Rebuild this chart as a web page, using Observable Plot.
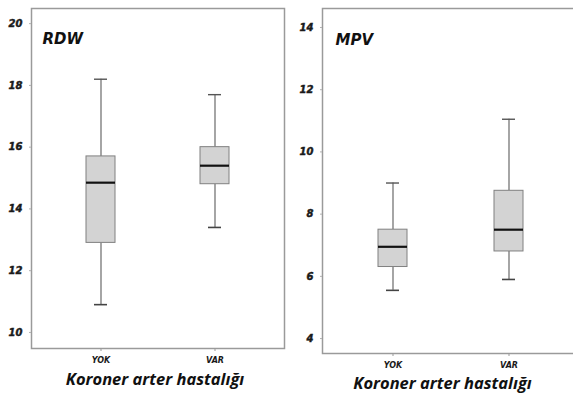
<!DOCTYPE html>
<html>
<head>
<meta charset="utf-8">
<script src="https://cdn.jsdelivr.net/npm/d3@7"></script>
<script src="https://cdn.jsdelivr.net/npm/@observablehq/plot@0.6"></script>
<style>
  html, body { margin: 0; padding: 0; background: #fff; }
  #wrap { position: relative; width: 573px; height: 395px; overflow: hidden; background: #fff; }
  .panel { position: absolute; top: 0; width: 290px; height: 395px; }
  .panel svg { overflow: visible; max-width: none !important; height: 395px !important; }
  .panel svg g[aria-label="y-axis tick label"] text { stroke: #1a1a1a; stroke-width: 0.45px; }
</style>
</head>
<body>
<div id="wrap">
  <div id="left" class="panel" style="left:0px"></div>
  <div id="right" class="panel" style="left:290px"></div>
</div>
<script>
// ---- data ----
const groups = ["YOK", "VAR"];
const xTitle = "Koroner arter hastalığı";

const rdwLow    = [10.9, 13.4];
const rdwQ1     = [12.9, 14.8];
const rdwMedian = [14.85, 15.4];
const rdwQ3     = [15.7, 16.0];
const rdwHigh   = [18.2, 17.7];
const rdwTicks  = [10, 12, 14, 16, 18, 20];

const mpvLow    = [5.55, 5.9];
const mpvQ1     = [6.3, 6.8];
const mpvMedian = [6.95, 7.5];
const mpvQ3     = [7.5, 8.75];
const mpvHigh   = [9.0, 11.05];
const mpvTicks  = [4, 6, 8, 10, 12, 14];

function rows(low, q1, med, q3, high) {
  return groups.map((g, i) => ({group: g, low: low[i], q1: q1[i], median: med[i], q3: q3[i], high: high[i]}));
}

const fontTick = "DejaVu Sans, sans-serif";
const fontTitle = "Open Sans, Lato, sans-serif";

function panel({title, data, ticks, yDomain, width, height, margins, pad, titleDx, titleDy, xtDx, xtDy}) {
  return Plot.plot({
    width, height,
    marginLeft: margins[0], marginTop: margins[1], marginRight: margins[2], marginBottom: margins[3],
    style: {fontFamily: fontTick, color: "#1a1a1a", background: "transparent", overflow: "visible"},
    x: {type: "band", domain: groups, paddingInner: pad[0], paddingOuter: pad[1]},
    y: {domain: yDomain},
    marks: [
      Plot.frame({stroke: "#9a9a9a", strokeWidth: 1.5}),
      Plot.axisY({ticks: ticks, tickFormat: d => d, label: null, tickSize: 2, tickPadding: 7,
        fontSize: 10, fontWeight: "bold", fontStyle: "italic", fontFamily: fontTick,
        stroke: "#b0b0b0", fill: "#1a1a1a"}),
      Plot.axisX({label: null, tickSize: 3, tickPadding: 6,
        fontSize: 8, fontWeight: "bold", fontStyle: "italic", fontFamily: fontTick,
        stroke: "#999", fill: "#1a1a1a"}),
      Plot.ruleX(data, {x: "group", y1: "low", y2: "q1", stroke: "#6a6a6a", strokeWidth: 1.2}),
      Plot.ruleX(data, {x: "group", y1: "q3", y2: "high", stroke: "#6a6a6a", strokeWidth: 1.2}),
      Plot.tickY(data, {x: "group", y: "low", stroke: "#444", strokeWidth: 1.6, insetLeft: 8, insetRight: 8}),
      Plot.tickY(data, {x: "group", y: "high", stroke: "#555", strokeWidth: 1.4, insetLeft: 8, insetRight: 8}),
      Plot.barY(data, {x: "group", y1: "q1", y2: "q3", fill: "#d3d3d3", stroke: "#808080", strokeWidth: 1}),
      Plot.tickY(data, {x: "group", y: "median", stroke: "#111", strokeWidth: 2.2}),
      Plot.text([title], {frameAnchor: "top-left", textAnchor: "start", dx: titleDx, dy: titleDy,
        fontSize: 15, fontWeight: "bold", fontStyle: "italic", fontFamily: fontTick, fill: "#111"}),
      Plot.text([xTitle], {frameAnchor: "bottom", dx: xtDx, dy: xtDy,
        fontSize: 16.5, fontWeight: "bold", fontStyle: "italic", fontFamily: fontTitle, fill: "#111"})
    ]
  });
}

document.getElementById("left").appendChild(panel({
  title: "RDW",
  data: rows(rdwLow, rdwQ1, rdwMedian, rdwQ3, rdwHigh),
  ticks: rdwTicks,
  yDomain: [9.48, 20.49],
  width: 290, height: 395,
  margins: [31, 8, 6, 47],
  pad: [0.746, 0.4825],
  titleDx: 11, titleDy: 25,
  xtDx: -3, xtDy: 36
}));

document.getElementById("right").appendChild(panel({
  title: "MPV",
  data: rows(mpvLow, mpvQ1, mpvMedian, mpvQ3, mpvHigh),
  ticks: mpvTicks,
  yDomain: [3.52, 14.61],
  width: 290, height: 395,
  margins: [32, 8, 2, 42],
  pad: [0.75, 0.478],
  titleDx: 13, titleDy: 26,
  xtDx: -8, xtDy: 35
}));
</script>
</body>
</html>
